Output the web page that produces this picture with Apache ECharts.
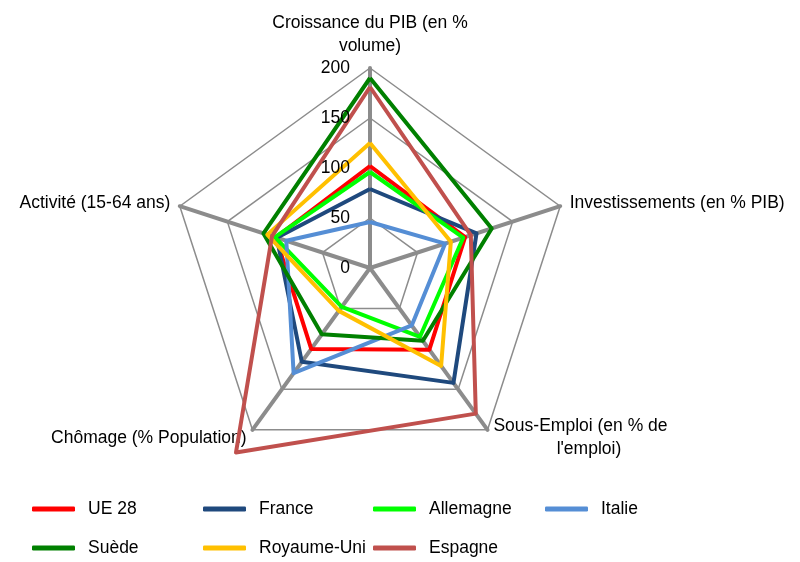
<!DOCTYPE html>
<html>
<head>
<meta charset="utf-8">
<script src="https://cdn.jsdelivr.net/npm/echarts@6/dist/echarts.min.js"></script>
<style>
  html, body { margin: 0; padding: 0; background: #fff; }
  #chart { width: 800px; height: 562px; }
</style>
</head>
<body>
<div id="chart"></div>
<script>
// --- data (clockwise from the top) ---
const indicators = [
  'Croissance du PIB (en %\nvolume)',
  'Investissements (en % PIB)',
  "Sous-Emploi (en % de\n             l'emploi)",
  'Chômage (% Population)',
  'Activité (15-64 ans)'
];
const countries = ['UE 28', 'France', 'Allemagne', 'Italie', 'Suède', 'Royaume-Uni', 'Espagne'];
const colors = ['#ff0000', '#1f497d', '#00ff00', '#558ed5', '#008000', '#ffc000', '#c0504d'];
const values = [
  [102, 100, 101, 100, 99],
  [79, 112, 142, 116, 98],
  [96, 98, 85, 48, 100],
  [46, 79, 71, 130, 88],
  [190, 128, 90, 82, 112],
  [125, 85, 121, 53, 108],
  [181, 106, 180, 228, 103]
];
const scaleTicks = [0, 50, 100, 150, 200];
// --- end data ---

const FONT = '"Liberation Sans Narrow", "Liberation Sans", Arial, sans-serif';

// echarts lays radar indicators out counter-clockwise, so reverse all but the first
const order = [0, 4, 3, 2, 1];

const chart = echarts.init(document.getElementById('chart'));

const legendLeft = [32, 203, 373, 545];
const legends = countries.map((c, i) => ({
  data: [c],
  left: legendLeft[i % 4],
  top: i < 4 ? 500 : 539,
  padding: 0,
  icon: 'roundRect',
  itemWidth: 43,
  itemHeight: 5,
  itemGap: 0,
  selectedMode: false,
  textStyle: { fontFamily: FONT, fontSize: 17.5, color: '#000', padding: [0, 0, 0, 8] }
}));

chart.setOption({
  backgroundColor: '#fff',
  animation: false,
  color: colors,
  legend: legends,
  grid: { left: 370, top: 68, width: 1, height: 200 },
  xAxis: { type: 'value', show: false },
  yAxis: {
    type: 'value',
    z: 10,
    min: scaleTicks[0],
    max: scaleTicks[scaleTicks.length - 1],
    interval: 50,
    axisLine: { show: false },
    axisTick: { show: false },
    splitLine: { show: false },
    axisLabel: { fontFamily: FONT, fontSize: 17.5, color: '#000', margin: 20 }
  },
  radar: {
    center: [370, 268],
    radius: 200,
    startAngle: 90,
    splitNumber: 4,
    shape: 'polygon',
    indicator: order.map(k => ({ name: indicators[k], min: 0, max: 200 })),
    axisName: { color: '#000', fontFamily: FONT, fontSize: 17.5, lineHeight: 23 },
    nameGap: 10,
    axisLine: { lineStyle: { color: '#8c8c8c', width: 4 } },
    splitLine: { lineStyle: { color: '#8c8c8c', width: 1.5 } },
    splitArea: { show: false },
    axisTick: { show: false },
    axisLabel: { show: false }
  },
  series: [{
    type: 'radar',
    symbol: 'none',
    data: countries.map((c, i) => ({
      name: c,
      value: order.map(k => values[i][k]),
      lineStyle: { color: colors[i], width: 4 },
      itemStyle: { color: colors[i] }
    }))
  }]
});
</script>
</body>
</html>
